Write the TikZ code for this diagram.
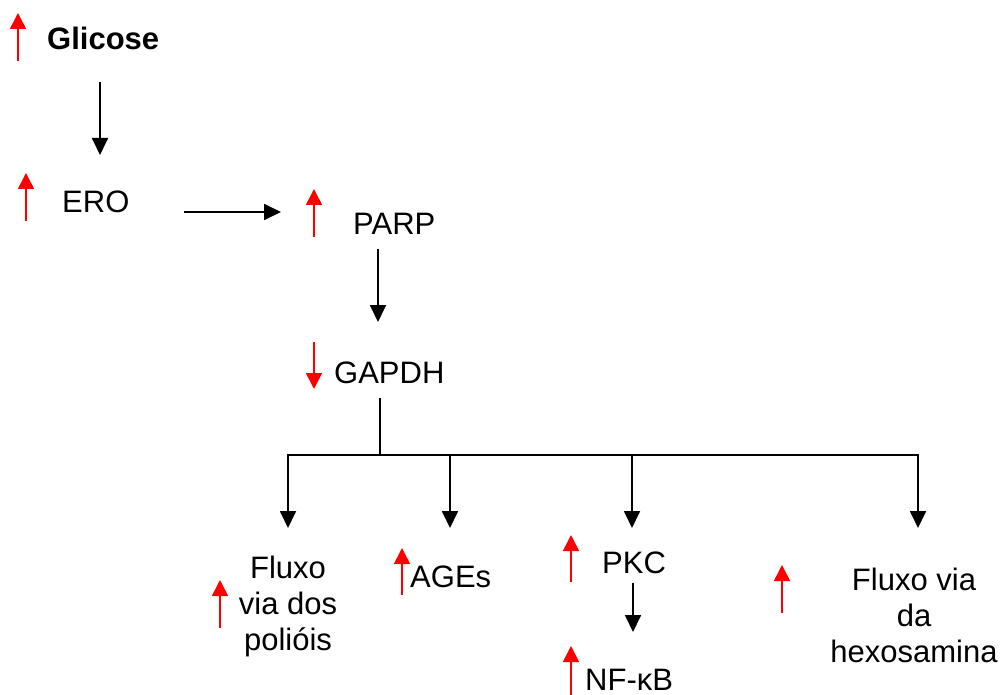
\documentclass[tikz,border=0pt]{standalone}
\usepackage{fontspec}
\setmainfont{Liberation Sans}
\usetikzlibrary{arrows.meta}
\begin{document}
\begin{tikzpicture}[x=1pt,y=-1pt,
  lbl/.style={inner sep=0pt,font=\fontsize{31}{36}\selectfont},
  arr/.style={line width=1.8pt,-{Triangle[width=16pt,length=17pt]}},
  tree/.style={line width=1.8pt},
  redarr/.style={red,line width=1.6pt,-{Triangle[width=16pt,length=16pt]}}]
\useasboundingbox (0,0) rectangle (1004,695);
\clip (0,0) rectangle (1004,695);
% labels
\node[lbl,anchor=base west,font=\fontsize{31}{36}\selectfont\bfseries] (glicose) at (47,50) {Glicose};
\node[lbl,anchor=base west] (ero) at (62,213) {ERO};
\node[lbl,anchor=base west] (parp) at (353,234) {PARP};
\node[lbl,anchor=base west] (gapdh) at (334,383) {GAPDH};
\node[lbl,anchor=base,align=center] (poli) at (288,650) {Fluxo\\via dos\\polióis};
\node[lbl,anchor=base west] (ages) at (410,587) {AGEs};
\node[lbl,anchor=base west] (pkc) at (602,573) {PKC};
\node[lbl,anchor=base west] (nfkb) at (585,690) {NF-κB};
\node[lbl,anchor=base,align=center] (hexo) at (914,662) {Fluxo via\\da\\hexosamina};
% red indicator arrows
\coordinate (rg0) at (18,61);  \coordinate (rg1) at (18,13);
\coordinate (re0) at (26,221); \coordinate (re1) at (26,173);
\coordinate (rp0) at (314,237); \coordinate (rp1) at (314,189);
\coordinate (rd0) at (314,342); \coordinate (rd1) at (314,389);
\coordinate (rf0) at (220,628); \coordinate (rf1) at (220,580);
\coordinate (ra0) at (402,595); \coordinate (ra1) at (402,548);
\coordinate (rk0) at (571,582); \coordinate (rk1) at (571,535);
\coordinate (rn0) at (571,700); \coordinate (rn1) at (571,646);
\coordinate (rh0) at (782,613); \coordinate (rh1) at (782,565);
\foreach \r in {g,e,p,d,f,a,k,n,h} \draw[redarr] (r\r0) -- (r\r1);
% black connectors
\coordinate (g0) at (100,82);  \coordinate (g1) at (100,155);
\draw[arr] (g0) -- (g1);
\coordinate (e0) at (184,212); \coordinate (e1) at (281,212);
\draw[arr] (e0) -- (e1);
\coordinate (p0) at (378,249); \coordinate (p1) at (378,322);
\draw[arr] (p0) -- (p1);
\coordinate (t0) at (380,398); \coordinate (t1) at (380,455);
\coordinate (tl) at (288,455); \coordinate (tr) at (918,455);
\draw[tree] (t0) -- (t1);
\draw[tree] (tl) -- (tr);
\foreach \x in {288,450,632,918} \draw[arr] (\x,454) -- (\x,528);
\coordinate (k0) at (633,583); \coordinate (k1) at (633,632);
\draw[arr] (k0) -- (k1);
\end{tikzpicture}
\end{document}
